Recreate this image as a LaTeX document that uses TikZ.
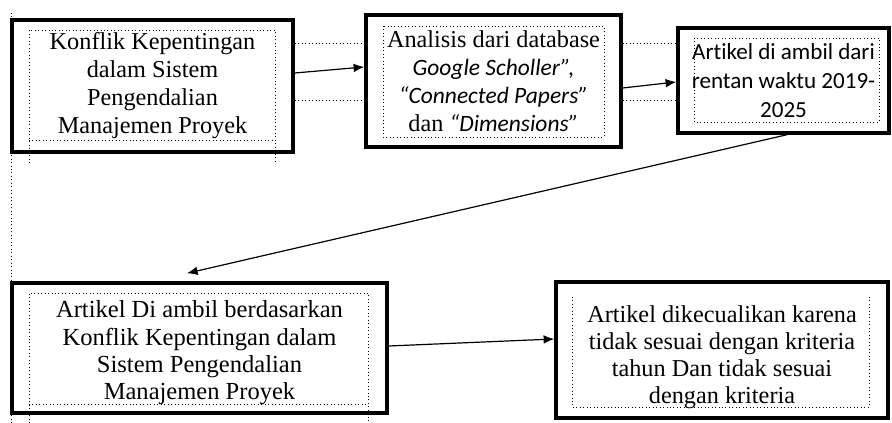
\documentclass[tikz,border=0pt]{standalone}
\usepackage{fontspec}
\setmainfont{Liberation Serif}
\newfontfamily\carl[Ligatures=NoCommon]{Carlito}
\usepackage{tikz}
\usetikzlibrary{arrows,arrows.meta,calc,positioning}
\tikzset{kotak/.style={draw, rectangle, line width=2.6pt, align=center, inner sep=0pt}}
\tikzstyle{titik}=[dotted, line width=0.6pt]
\tikzstyle{panah}=[->, line width=0.9pt]
\newcommand{\miring}[1]{{\carl\itshape\fontsize{17.6}{21}\selectfont #1}}

\begin{document}
\begin{tikzpicture}[x=0.75pt, y=-0.75pt, >={Latex[length=8pt,width=6.5pt]}, font=\fontsize{18.2}{21}\selectfont]
\useasboundingbox (0,0) rectangle (892,423);
% garis titik-titik bingkai teks
\draw[titik] (11,13) -- (11,423);
\draw[titik] (29,163) -- (29,30) -- (275,30) -- (275,163) (29,140) -- (275,140);
\draw[titik] (383,26) rectangle (604,137);
\draw[titik] (694,38) rectangle (879,122);
\draw[titik] (29,423) -- (29,293) -- (368,293) -- (368,423) (29,404) -- (368,404);
\draw[titik] (572,297) -- (572,407) -- (869,407) -- (869,297);
% kotak utama
\node[kotak, minimum width=210.75pt, minimum height=99pt] (konflik) at (152.5,86) {Konflik Kepentingan\\dalam Sistem\\Pengendalian\\Manajemen Proyek};
\node[kotak, minimum width=191.25pt, minimum height=99pt] (analisis) at (493.5,81) {Analisis dari database\\\miring{Google Scholler”,}\\\miring{“Connected Papers”}\\dan \miring{“Dimensions”}};
\node[kotak, minimum width=158.25pt, minimum height=78.75pt, font=\carl\fontsize{17.3}{21.75}\selectfont] (artikel) at (783.5,80.5) {Artikel di ambil dari\\rentan waktu 2019-\\2025};
\node[kotak, minimum width=281.25pt, minimum height=97.5pt, font=\fontsize{18.4}{20.5}\selectfont] (ambil) at (199.5,348) {\rule{0pt}{20pt}Artikel Di ambil berdasarkan\\Konflik Kepentingan dalam\\Sistem Pengendalian\\Manajemen Proyek};
\node[kotak, minimum width=249pt, minimum height=102pt, font=\fontsize{18.2}{20.3}\selectfont] (kecuali) at (722,350) {\rule{0pt}{23pt}Artikel dikecualikan karena\\tidak sesuai dengan kriteria\\tahun Dan tidak sesuai\\dengan kriteria};
% garis titik-titik antar kotak
\draw[titik] (konflik.east |- 0,43) -- (analisis.west |- 0,43) (konflik.east |- 0,100) -- (analisis.west |- 0,100);
\draw[titik] (analisis.east |- 0,43) -- (artikel.west |- 0,43) (analisis.east |- 0,100) -- (artikel.west |- 0,100);
% panah
\draw[panah] ([yshift=9.75pt]konflik.east) -- ([yshift=10.5pt]analisis.west);
\draw[panah] ([yshift=-5.25pt]analisis.east) -- ([yshift=-1.1pt]artikel.west);
\draw[panah] ([xshift=2.6pt]artikel.south) -- ([xshift=-9.4pt,yshift=6pt]ambil.north);
\draw[panah] ([yshift=1.5pt]ambil.east) -- ([yshift=8.25pt]kecuali.west);
\end{tikzpicture}
\end{document}
